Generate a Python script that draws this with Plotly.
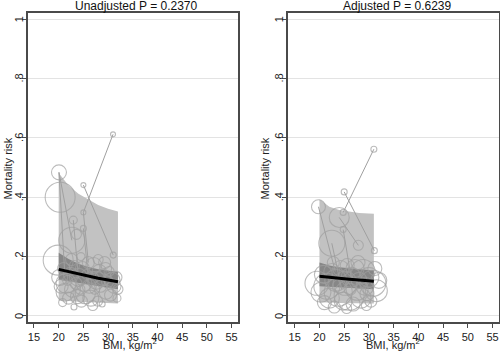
import plotly.graph_objects as go

# ---------------- data: left panel (unadjusted) ----------------
L_band_x = [20, 22, 24, 26, 28, 30, 32]
L_pred_hi = [0.482, 0.440, 0.412, 0.392, 0.374, 0.361, 0.352]
L_pred_lo = [0.052, 0.050, 0.048, 0.046, 0.045, 0.043, 0.042]
L_ci_hi = [0.213, 0.192, 0.176, 0.165, 0.157, 0.152, 0.148]
L_ci_lo = [0.122, 0.116, 0.110, 0.105, 0.100, 0.095, 0.090]
L_fit = [0.157, 0.149, 0.141, 0.134, 0.127, 0.121, 0.115]

L_bx = [20.06, 20.3, 25.0, 25.0, 31.0, 31.05, 22.96, 22.66, 19.9, 25.0, 23.6,
        20.2, 20.5, 21.0, 21.3, 21.8, 22.0, 22.4, 22.8, 23.1, 23.2, 23.5, 23.8,
        24.0, 24.3, 24.6, 24.8, 25.1, 25.4, 25.7, 26.0, 26.2, 26.5, 26.8, 27.1,
        27.3, 27.6, 27.9, 28.2, 28.5, 28.8, 29.0, 29.3, 29.6, 29.9, 30.2, 30.5,
        30.8, 31.2, 31.6, 32.0, 31.8, 20.8, 22.6, 24.5, 28.0, 26.9, 21.5, 29.5]
L_by = [0.484, 0.400, 0.441, 0.349, 0.612, 0.205, 0.323, 0.255, 0.188, 0.295, 0.275,
        0.130, 0.100, 0.160, 0.080, 0.120, 0.060, 0.140, 0.090, 0.030, 0.170, 0.110, 0.065,
        0.130, 0.090, 0.050, 0.160, 0.110, 0.075, 0.140, 0.180, 0.100, 0.060, 0.130, 0.170,
        0.090, 0.120, 0.050, 0.150, 0.100, 0.040, 0.130, 0.180, 0.080, 0.115, 0.150, 0.070,
        0.120, 0.100, 0.130, 0.090, 0.060, 0.045, 0.190, 0.200, 0.190, 0.035, 0.110, 0.160]
L_bs = [15, 30, 5, 5, 5, 6, 8, 26, 30, 6, 10,
        16, 14, 12, 18, 10, 12, 14, 16, 6, 10, 12, 14,
        18, 10, 12, 14, 16, 20, 10, 12, 14, 16, 12, 16,
        10, 18, 10, 14, 12, 6, 16, 12, 14, 12, 10, 12,
        16, 14, 12, 10, 8, 8, 12, 8, 10, 10, 20, 12]

L_seg_x0 = [31.0, 25.0, 20.06, 20.06, 25.0, 22.96, 25.0]
L_seg_y0 = [0.612, 0.441, 0.484, 0.484, 0.349, 0.323, 0.295]
L_seg_x1 = [25.0, 31.05, 22.66, 21.2, 26.0, 24.0, 26.2]
L_seg_y1 = [0.349, 0.205, 0.255, 0.150, 0.180, 0.130, 0.100]

# ---------------- data: right panel (adjusted) ----------------
R_band_x = [20, 21, 22, 24, 26, 28, 30, 31]
R_pred_hi = [0.393, 0.380, 0.368, 0.357, 0.351, 0.347, 0.345, 0.344]
R_pred_lo = [0.046, 0.046, 0.045, 0.044, 0.044, 0.043, 0.042, 0.042]
R_ci_hi = [0.180, 0.175, 0.170, 0.164, 0.160, 0.157, 0.155, 0.154]
R_ci_lo = [0.100, 0.100, 0.099, 0.097, 0.095, 0.093, 0.091, 0.090]
R_fit = [0.134, 0.132, 0.130, 0.127, 0.124, 0.121, 0.118, 0.117]

R_bx = [31.0, 25.0, 24.8, 19.8, 24.0, 24.8, 22.5, 27.86, 31.1,
        19.5, 20.3, 20.8, 21.5, 22.0, 22.5, 23.0, 23.3, 23.8, 24.3, 24.8, 25.2,
        25.6, 26.0, 26.4, 26.8, 27.2, 27.6, 28.0, 28.4, 28.8, 29.2, 29.6, 30.0,
        30.4, 30.8, 31.2, 31.5, 32.0, 21.0, 22.8, 25.5, 27.8, 29.5, 24.0, 26.2]
R_by = [0.562, 0.418, 0.349, 0.368, 0.332, 0.291, 0.245, 0.238, 0.220,
        0.110, 0.080, 0.140, 0.100, 0.060, 0.150, 0.030, 0.120, 0.080, 0.160, 0.050, 0.110,
        0.170, 0.070, 0.130, 0.040, 0.160, 0.090, 0.120, 0.060, 0.150, 0.100, 0.075, 0.130,
        0.050, 0.110, 0.160, 0.085, 0.120, 0.045, 0.180, 0.025, 0.180, 0.035, 0.100, 0.090]
R_bs = [6, 6, 6, 14, 20, 6, 26, 10, 6,
        24, 20, 18, 26, 20, 16, 12, 22, 28, 16, 18, 24,
        14, 30, 20, 14, 18, 22, 16, 20, 24, 18, 14, 20,
        12, 26, 14, 22, 16, 14, 12, 10, 14, 10, 14, 12]

R_seg_x0 = [31.0, 25.0, 19.8, 24.0, 24.8, 22.5]
R_seg_y0 = [0.562, 0.418, 0.368, 0.332, 0.291, 0.245]
R_seg_x1 = [24.8, 31.1, 23.2, 27.86, 26.5, 24.5]
R_seg_y1 = [0.349, 0.220, 0.150, 0.238, 0.120, 0.090]

titles = ["Unadjusted P = 0.2370", "Adjusted P = 0.6239"]
x_ticks = [15, 20, 25, 30, 35, 40, 45, 50, 55]
y_ticks = [0, 0.2, 0.4, 0.6, 0.8, 1]
y_ticktext = ["0", ".2", ".4", ".6", ".8", "1"]

FONT = "Liberation Sans, Arial, sans-serif"
BUB = "#a0a0a0"
AX = "#4a4a4a"

fig = go.Figure()

def add_panel(xa, ya, bx_band, p_hi, p_lo, c_hi, c_lo, fit, bx, by, bs, sx0, sy0, sx1, sy1):
    fig.add_trace(go.Scatter(x=bx_band + bx_band[::-1], y=p_hi + p_lo[::-1],
                             fill="toself", fillcolor="#c2c2c2", line=dict(width=0),
                             mode="lines", xaxis=xa, yaxis=ya, hoverinfo="skip"))
    fig.add_trace(go.Scatter(x=bx_band + bx_band[::-1], y=c_hi + c_lo[::-1],
                             fill="toself", fillcolor="rgba(120,120,120,0.8)", line=dict(width=0),
                             mode="lines", xaxis=xa, yaxis=ya, hoverinfo="skip"))
    lx, ly = [], []
    for a, b, c, d in zip(sx0, sy0, sx1, sy1):
        lx += [a, c, None]
        ly += [b, d, None]
    fig.add_trace(go.Scatter(x=lx, y=ly, mode="lines", line=dict(color=BUB, width=1),
                             xaxis=xa, yaxis=ya))
    fig.add_trace(go.Scatter(x=bx, y=by, mode="markers",
                             marker=dict(symbol="circle-open", size=bs, color=BUB,
                                         line=dict(width=1.1, color=BUB)),
                             xaxis=xa, yaxis=ya))
    fig.add_trace(go.Scatter(x=bx_band, y=fit, mode="lines", line=dict(color="black", width=3),
                             xaxis=xa, yaxis=ya))

add_panel("x", "y", L_band_x, L_pred_hi, L_pred_lo, L_ci_hi, L_ci_lo, L_fit,
          L_bx, L_by, L_bs, L_seg_x0, L_seg_y0, L_seg_x1, L_seg_y1)
add_panel("x2", "y2", R_band_x, R_pred_hi, R_pred_lo, R_ci_hi, R_ci_lo, R_fit,
          R_bx, R_by, R_bs, R_seg_x0, R_seg_y0, R_seg_x1, R_seg_y1)

xcommon = dict(tickvals=x_ticks, showgrid=False, zeroline=False, showline=True, mirror=True,
               linecolor=AX, linewidth=1.5, ticks="outside", ticklen=4, tickcolor=AX,
               tickfont=dict(family=FONT, size=11, color="#222"))
ycommon = dict(tickvals=y_ticks, range=[-0.02, 1.021], showgrid=True, showticklabels=False,
               gridcolor="#e3e3e3", gridwidth=1, zeroline=False, showline=True, mirror=True,
               linecolor=AX, linewidth=1.5, ticks="outside", ticklen=4, tickcolor=AX)

fig.update_layout(
    width=500, height=351, margin=dict(l=0, r=0, t=0, b=0),
    paper_bgcolor="white", plot_bgcolor="white", showlegend=False,
    xaxis=dict(domain=[0.056, 0.476], range=[13.79, 56.3], anchor="y", **xcommon),
    yaxis=dict(domain=[0.083, 0.963], anchor="x", **ycommon),
    xaxis2=dict(domain=[0.576, 0.998], range=[13.64, 56.3], anchor="y2", **xcommon),
    yaxis2=dict(domain=[0.083, 0.963], anchor="x2", **ycommon),
)

ann = []
for cx, t in zip([0.272, 0.794], titles):
    ann.append(dict(x=cx, y=1 - 6 / 351, xref="paper", yref="paper", text=t, showarrow=False,
                    xanchor="center", yanchor="middle", font=dict(family=FONT, size=12, color="#111")))
for cx in [0.26, 0.786]:
    ann.append(dict(x=cx, y=1 - 344 / 351, xref="paper", yref="paper", text="BMI, kg/m<sup>2</sup>",
                    showarrow=False, xanchor="center", yanchor="middle",
                    font=dict(family=FONT, size=11, color="#222")))
for cx in [8 / 500, 265 / 500]:
    ann.append(dict(x=cx, y=0.52, xref="paper", yref="paper", text="Mortality risk", textangle=-90,
                    showarrow=False, xanchor="center", yanchor="middle",
                    font=dict(family=FONT, size=11, color="#222")))
# rotated y tick labels (Stata style)
for xr, yr in [("x domain", "y"), ("x2 domain", "y2")]:
    for v, t in zip(y_ticks, y_ticktext):
        ann.append(dict(x=0, y=v, xref=xr, yref=yr, text=t, textangle=-90, showarrow=False,
                        xanchor="center", yanchor="middle", xshift=-9,
                        font=dict(family=FONT, size=11, color="#222")))
fig.update_layout(annotations=ann)

fig.write_html("out.html")
